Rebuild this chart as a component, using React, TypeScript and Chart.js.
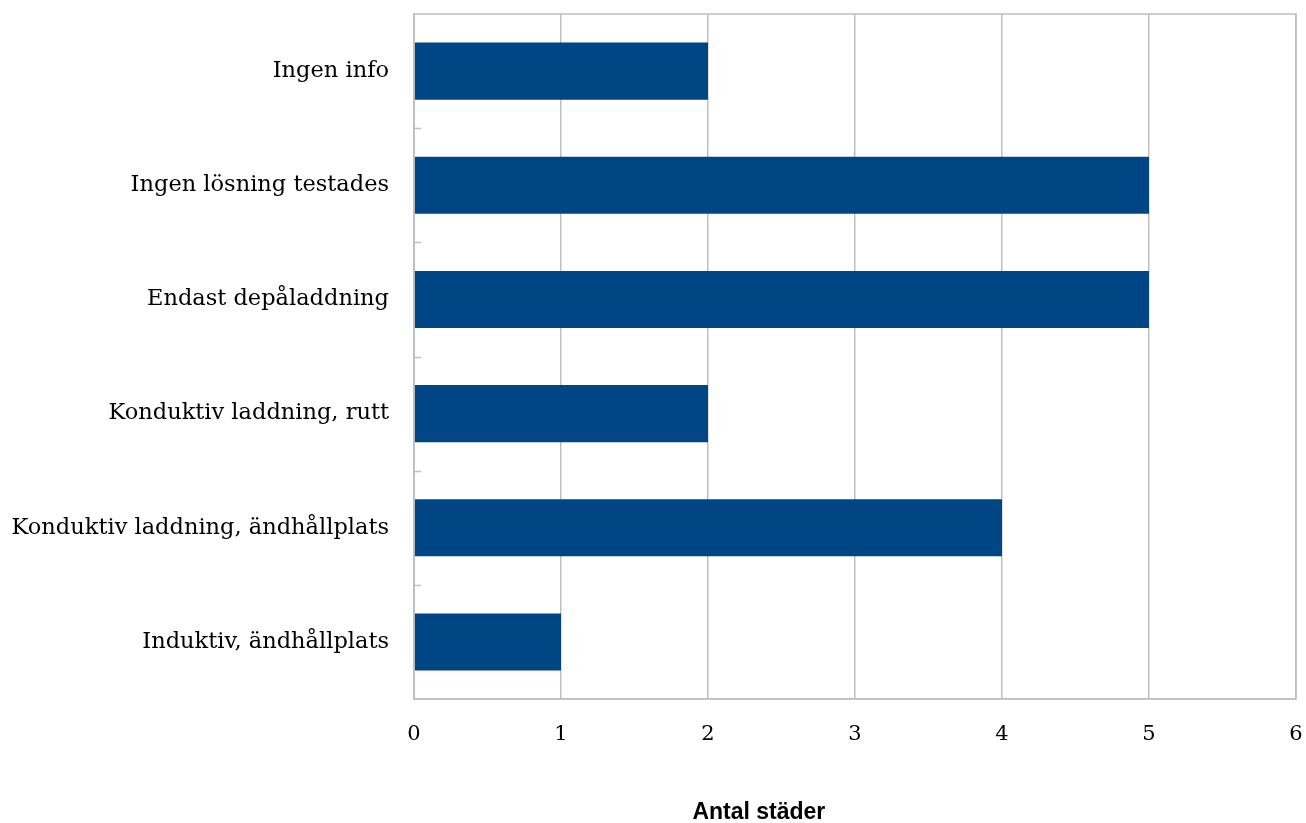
import React, { useEffect, useRef } from "react";
import { Chart, registerables } from "chart.js";

Chart.register(...registerables);

const categories = [
  "Ingen info",
  "Ingen lösning testades",
  "Endast depåladdning",
  "Konduktiv laddning, rutt",
  "Konduktiv laddning, ändhållplats",
  "Induktiv, ändhållplats",
];
const values = [2, 5, 5, 2, 4, 1];
const xTicks = [0, 1, 2, 3, 4, 5, 6];
const xTitle = "Antal städer";

const GRID = "#bfbfbf";

const framePlugin = {
  id: "frame",
  afterDatasetsDraw(chart: any) {
    const { ctx, chartArea, scales } = chart;
    const y = scales.y;
    ctx.save();
    ctx.strokeStyle = GRID;
    ctx.lineWidth = 1.5;
    ctx.beginPath();
    for (let i = 0; i < categories.length - 1; i++) {
      const py = Math.round(y.getPixelForValue(i + 0.5)) + 0.5;
      ctx.moveTo(chartArea.left, py);
      ctx.lineTo(chartArea.left + 7, py);
    }
    ctx.stroke();
    ctx.strokeRect(chartArea.left, chartArea.top, chartArea.right - chartArea.left, chartArea.bottom - chartArea.top);
    // axis title (offset left of the plot centre, as in the source)
    const x = scales.x;
    ctx.fillStyle = "#000";
    ctx.font = "bold 23px 'Liberation Sans', Arial, sans-serif";
    ctx.textAlign = "center";
    ctx.textBaseline = "middle";
    const cx = chartArea.left + (chartArea.right - chartArea.left) * 0.391;
    ctx.fillText(xTitle, cx, x.bottom - 10);
    ctx.restore();
  },
};

export default function App() {
  const ref = useRef<HTMLCanvasElement | null>(null);
  useEffect(() => {
    if (!ref.current) return;
    const chart = new Chart(ref.current, {
      type: "bar",
      data: {
        labels: categories,
        datasets: [
          {
            data: values,
            backgroundColor: "#004685",
            barPercentage: 0.5,
            categoryPercentage: 1,
          },
        ],
      },
      options: {
        indexAxis: "y",
        responsive: false,
        animation: false,
        layout: { padding: { top: 14, right: 10, left: 0, bottom: 0 } },
        plugins: { legend: { display: false }, tooltip: { enabled: false } },
        scales: {
          x: {
            min: 0,
            max: 6,
            afterBuildTicks: (s: any) => {
              s.ticks = xTicks.map((v) => ({ value: v }));
            },
            afterFit: (s: any) => {
              s.height = 124;
              s.paddingLeft = 0;
              s.paddingRight = 0;
              s.paddingTop = 0;
              s.paddingBottom = 0;
            },
            grid: { color: GRID, lineWidth: 1.5, drawTicks: false },
            border: { color: GRID, width: 1.5 },
            ticks: {
              padding: 23,
              color: "#000",
              font: { family: "DejaVu Serif", size: 21 },
            },
            title: { display: false, text: xTitle },
          },
          y: {
            afterFit: (s: any) => {
              s.width = 414;
              s.paddingTop = 0;
              s.paddingBottom = 0;
              s.paddingLeft = 0;
              s.paddingRight = 0;
            },
            grid: { display: false, drawTicks: false },
            border: { color: GRID, width: 1.5 },
            ticks: {
              padding: 25,
              color: "#000",
              font: { family: "DejaVu Serif", size: 22.5 },
            },
          },
        },
      },
      plugins: [framePlugin],
    });
    return () => chart.destroy();
  }, []);
  return (
    <div style={{ position: "fixed", left: 0, top: 0, width: 1306, height: 823, background: "#fff" }}>
      <canvas ref={ref} width={1306} height={823} style={{ width: 1306, height: 823 }} />
    </div>
  );
}
